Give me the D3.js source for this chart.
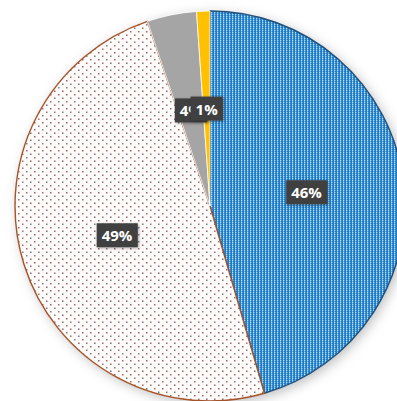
<!DOCTYPE html>
<html><head><meta charset="utf-8">
<script src="https://cdn.jsdelivr.net/npm/d3@7"></script>
<style>html,body{margin:0;padding:0;background:#fff;overflow:hidden}</style>
</head><body>
<svg id="c" width="397" height="401"></svg>
<script>
const categories = ["A", "B", "C", "D"];
const values = [45.5, 49.3, 4.1, 1.1];
const labels = ["46%", "49%", "4%", "1%"];
const fills = ["url(#pBlue)", "url(#pDots)", "#A5A5A5", "#FFC000"];
const strokes = ["#1F4E79", "#A4532A", "#ffffff", "#ffffff"];

const svg = d3.select("#c");
const defs = svg.append("defs");

const f = defs.append("filter").attr("id","sh").attr("x","-20%").attr("y","-20%").attr("width","140%").attr("height","140%");
f.append("feDropShadow").attr("dx",3).attr("dy",3).attr("stdDeviation",6).attr("flood-color","#000").attr("flood-opacity",0.25);

const fl = defs.append("filter").attr("id","lsh").attr("x","-30%").attr("y","-30%").attr("width","160%").attr("height","160%");
fl.append("feDropShadow").attr("dx",1).attr("dy",1).attr("stdDeviation",1.5).attr("flood-color","#000").attr("flood-opacity",0.35);

// blue dashed vertical pattern
const pb = defs.append("pattern").attr("id","pBlue").attr("patternUnits","userSpaceOnUse").attr("width",3).attr("height",2);
pb.append("rect").attr("width",3).attr("height",2).attr("fill","#2479C2");
pb.append("rect").attr("x",1).attr("y",0).attr("width",1).attr("height",1).attr("fill","#AEDEF7");
pb.append("rect").attr("x",1).attr("y",1).attr("width",1).attr("height",1).attr("fill","#62B2E5");
pb.append("rect").attr("x",2).attr("y",0).attr("width",1).attr("height",1).attr("fill","#4A9CD9");

// dotted pattern
const pd = defs.append("pattern").attr("id","pDots").attr("patternUnits","userSpaceOnUse").attr("width",16).attr("height",14);
pd.append("rect").attr("width",16).attr("height",14).attr("fill","#FEFCFB");
[[0,0,"#7a4a4a"],[8,0,"#a05050"],[4,3.5,"#8a5a5a"],[12,3.5,"#606060"],[0,7,"#a04848"],[8,7,"#6a6a6a"],[4,10.5,"#9a5050"],[12,10.5,"#7a4a4a"]]
  .forEach(([x,y,c])=>pd.append("rect").attr("x",x).attr("y",y).attr("width",1.5).attr("height",1.5).attr("fill",c).attr("opacity",0.85));

const cx = 210, cy = 206, r = 195;
const g = svg.append("g").attr("transform",`translate(${cx},${cy})`);

const pie = d3.pie().sort(null).value(d=>d)(values);
const arc = d3.arc().innerRadius(0).outerRadius(r);
const labelArc = d3.arc().innerRadius(r*0.5).outerRadius(r*0.5);

g.append("circle").attr("r",r).attr("fill","#fff").attr("filter","url(#sh)");

g.selectAll("path.s").data(pie).join("path").attr("class","s")
  .attr("d",arc).attr("fill",(d,i)=>fills[i]).attr("stroke",(d,i)=>strokes[i]).attr("stroke-width",(d,i)=>i<2?1.4:0.8)
  .attr("stroke-linejoin","round");

const lg = g.selectAll("g.l").data(pie).join("g").attr("class","l")
  .attr("transform",d=>`translate(${labelArc.centroid(d)})`);
lg.each(function(d,i){
  const sel = d3.select(this);
  const t = sel.append("text").text(labels[i])
    .attr("text-anchor","middle").attr("dominant-baseline","central")
    .attr("font-family","'Open Sans', 'Liberation Sans', sans-serif").attr("font-weight","bold").attr("font-size","15px")
    .attr("fill","#fff");
  const bb = t.node().getBBox();
  sel.insert("rect","text").attr("x",bb.x-5).attr("y",-12).attr("width",bb.width+10).attr("height",24)
    .attr("fill","#404040").attr("filter","url(#lsh)");
});
</script>
</body></html>
